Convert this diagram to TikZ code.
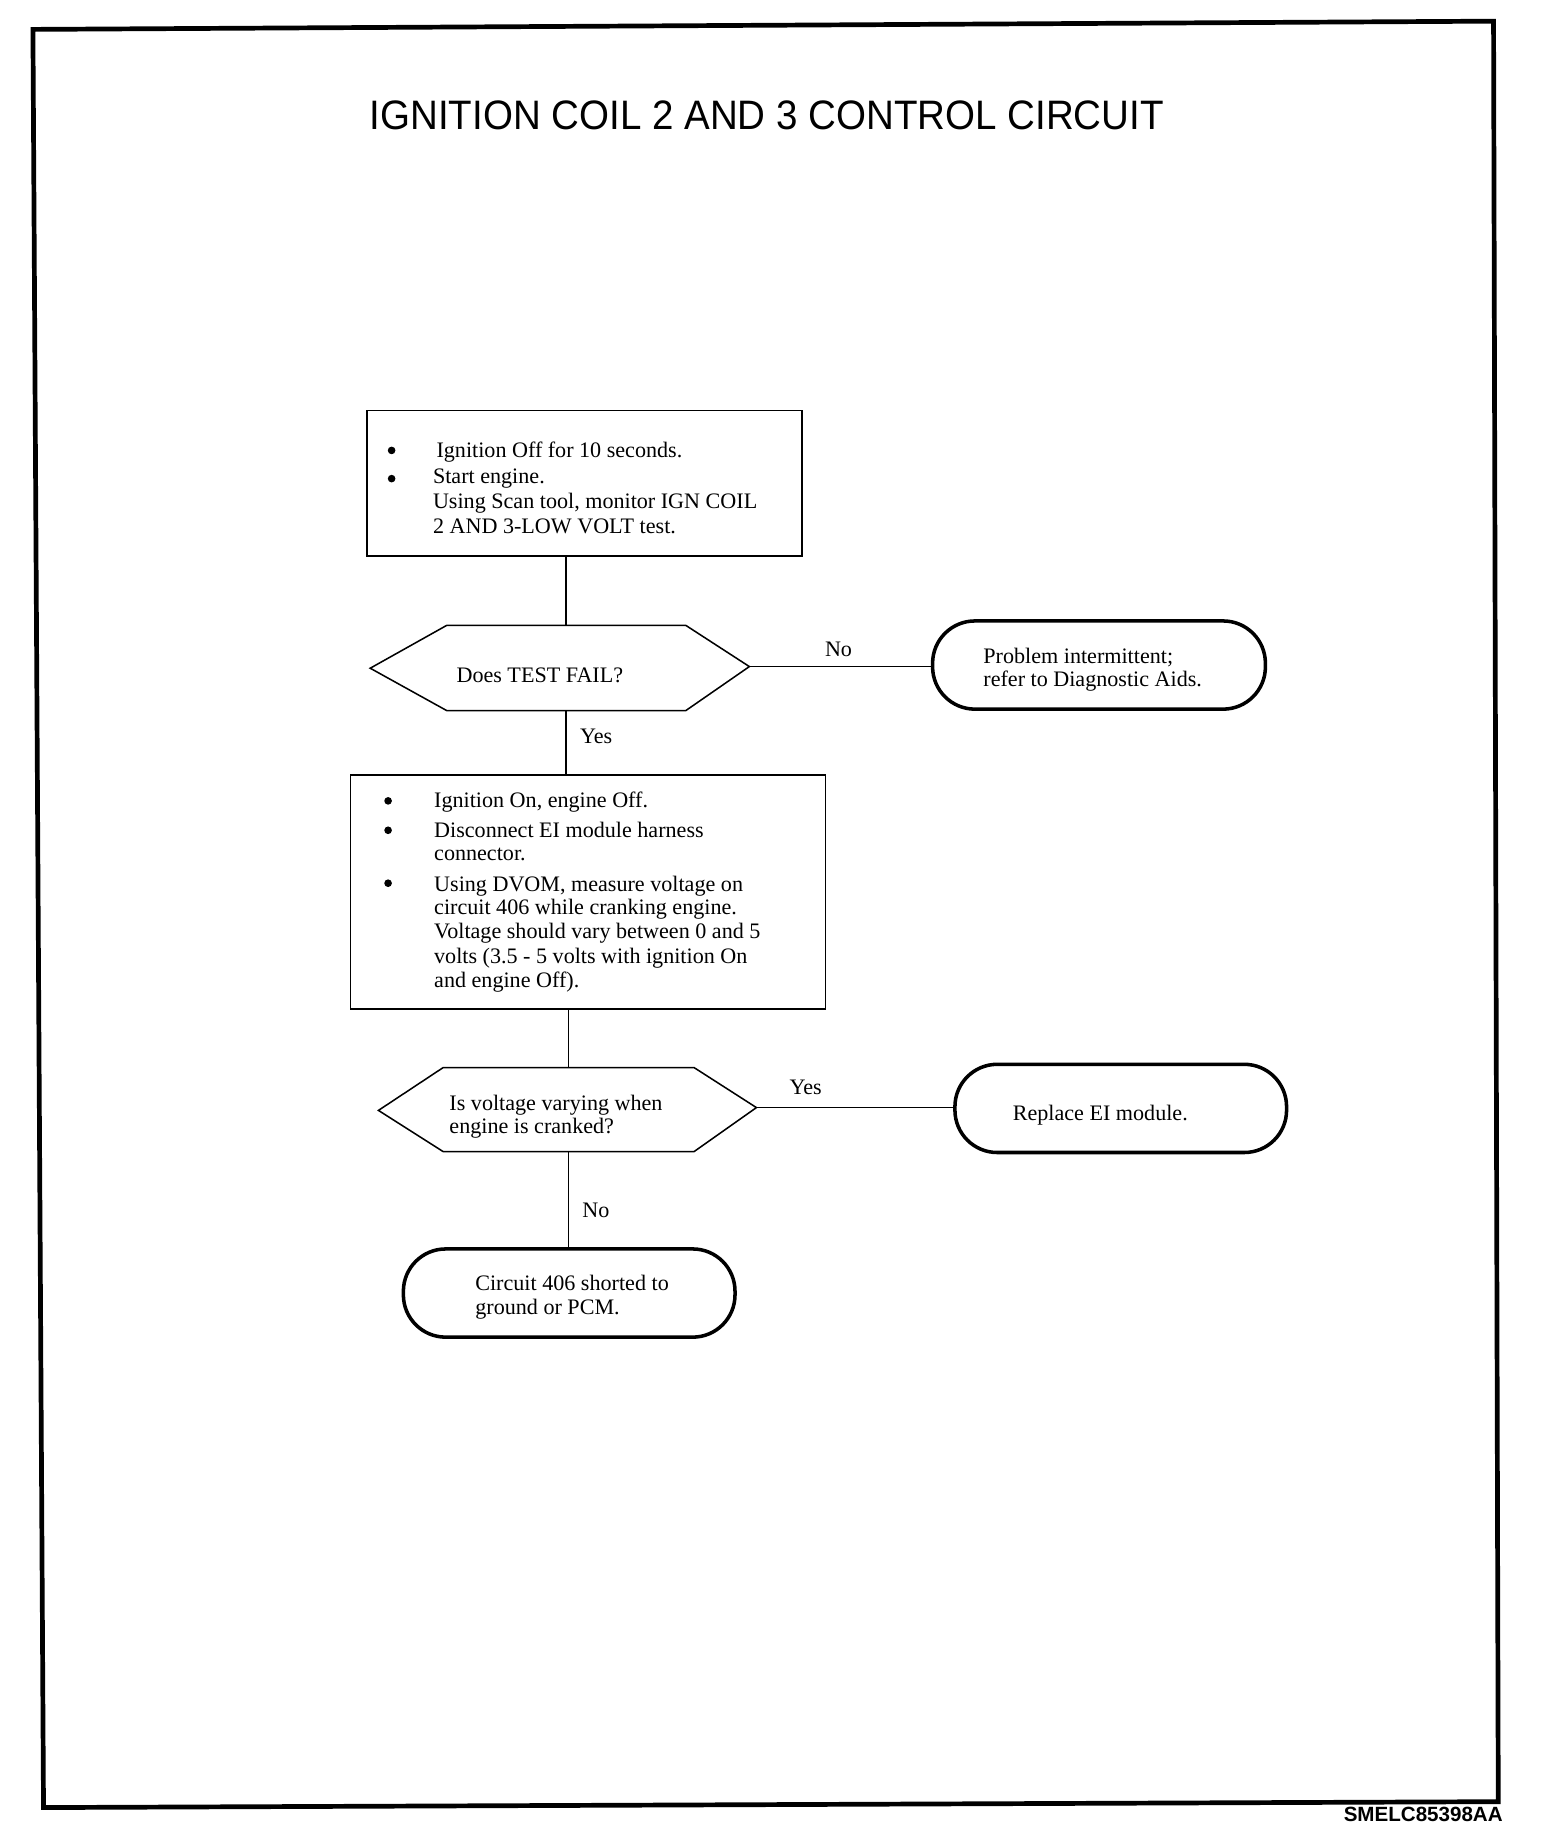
\documentclass[tikz,border=0pt]{standalone}
\usepackage{graphicx}
\usepackage{fontspec}
\setmainfont{Liberation Serif}
\newfontfamily\arialf{Liberation Sans}
\usetikzlibrary{calc}
\tikzset{
  procbox/.style={draw, line width=1.3pt, inner sep=0pt},
  term/.style={draw, line width=3pt, rounded corners=36pt, minimum width=283pt, minimum height=75pt, inner sep=0pt},
  hexcore/.style={inner sep=0pt},
  hexline/.style={line width=1.3pt, line join=miter},
  link/.style={line width=1.3pt},
  txt/.style={anchor=base west, inner sep=0pt, font=\fontsize{18.8}{21}\selectfont},
  lbl/.style={anchor=base, inner sep=0pt, font=\fontsize{18.8}{21}\selectfont},
  bul/.style={circle, fill, inner sep=0pt, minimum size=6.5pt},
}
\begin{document}
\begin{tikzpicture}[x=1pt,y=-1pt]
\useasboundingbox (0,0) rectangle (1333.3,1568);

% outer frame
\draw[line width=4pt, line join=miter] (28,25) -- (1270,18) -- (1274,1532) -- (37,1537) -- cycle;

% title and code
\node[anchor=base, inner sep=0pt, font=\arialf\fontsize{35}{40}\selectfont] (title) at (652,110)
  {\scalebox{0.936}[1]{IGNITION COIL 2 AND 3 CONTROL CIRCUIT}};
\node[anchor=base east, inner sep=0pt, font=\arialf\bfseries\fontsize{17.5}{20}\selectfont] (code) at (1278,1549) {SMELC85398AA};

% box 1
\node[procbox, minimum width=370pt, minimum height=124pt] (b1) at (497,411) {};
\node[bul] (b1p1) at (333,383) {};
\node[txt] (b1t1) at (371,389) {Ignition Off for 10 seconds.};
\node[bul] (b1p2) at (333,407) {};
\node[txt] (b1t2) at (368,411.5) {Start engine.};
\node[txt] (b1t3) at (368,432.5) {Using Scan tool, monitor IGN COIL};
\node[txt] (b1t4) at (368,453.5) {2 AND 3-LOW VOLT test.};

% decision 1
\node[hexcore, minimum width=203pt, minimum height=72pt] (d1) at (481.5,568) {};
\draw[hexline] (d1.north west) -- (d1.north east) -- ++(54,35) coordinate (d1e)
  -- (d1.south east) -- (d1.south west) -- ++(-65,-36) coordinate (d1w) -- cycle;
\node[txt] (d1t) at (388,580) {Does TEST FAIL?};

% terminal 1
\node[term] (t1) at (934.5,565.5) {};
\node[txt] (t1a) at (836,564) {Problem intermittent;};
\node[txt] (t1b) at (836,584) {refer to Diagnostic Aids.};

% box 2
\node[procbox, minimum width=404pt, minimum height=199pt] (b2) at (500,758.5) {};
\node[bul] (b2p1) at (330,681) {};
\node[txt] (b2t1) at (369,687) {Ignition On, engine Off.};
\node[bul] (b2p2) at (330,706) {};
\node[txt] (b2t2) at (369,712) {Disconnect EI module harness};
\node[txt] (b2t3) at (369,732) {connector.};
\node[bul] (b2p3) at (330,751) {};
\node[txt] (b2t4) at (369,758) {Using DVOM, measure voltage on};
\node[txt] (b2t5) at (369,778) {circuit 406 while cranking engine.};
\node[txt] (b2t6) at (369,798) {Voltage should vary between 0 and 5};
\node[txt] (b2t7) at (369,819) {volts (3.5 - 5 volts with ignition On};
\node[txt] (b2t8) at (369,840) {and engine Off).};

% decision 2
\node[hexcore, minimum width=213pt, minimum height=71pt] (d2) at (483.5,943.5) {};
\draw[hexline] (d2.north west) -- (d2.north east) -- ++(53,34) coordinate (d2e)
  -- (d2.south east) -- (d2.south west) -- ++(-55,-35) coordinate (d2w) -- cycle;
\node[txt] (d2ta) at (382,944) {Is voltage varying when};
\node[txt] (d2tb) at (382,964) {engine is cranked?};

% terminal 2
\node[term, minimum width=282pt] (t2) at (953,942.5) {};
\node[txt] (t2a) at (861,953) {Replace EI module.};

% terminal 3
\node[term, minimum width=282pt] (t3) at (484,1099.5) {};
\node[txt] (t3a) at (404,1097) {Circuit 406 shorted to};
\node[txt] (t3b) at (404,1118) {ground or PCM.};

% connectors
\draw[link] (d1.north) -- (d1.north |- b1.south);
\draw[link] (d1.south) -- (d1.south |- b2.north);
\draw[link] (d1e) -- (d1e -| t1.west);
\draw[link] (b2.south -| d2.north) -- (d2.north);
\draw[link] (d2e) -- (d2e -| t2.west);
\draw[link] (d2.south) -- (d2.south |- t3.north);

% labels
\node[lbl] (lno1) at (713,558) {No};
\node[txt] (lyes1) at (493,632) {Yes};
\node[lbl] (lyes2) at (685,931) {Yes};
\node[txt] (lno2) at (495,1035) {No};
\end{tikzpicture}
\end{document}
